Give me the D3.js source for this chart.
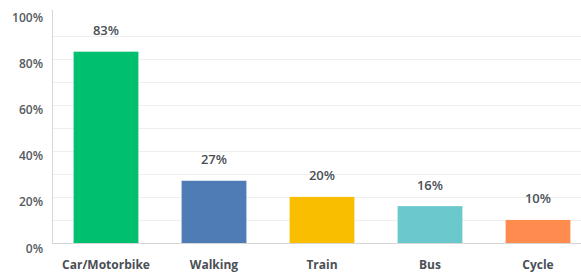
<!DOCTYPE html>
<html>
<head>
<meta charset="utf-8">
<script src="https://cdn.jsdelivr.net/npm/d3@7"></script>
<style>
  html, body { margin: 0; padding: 0; background: #fff; }
  svg { display: block; font-family: "Open Sans", "Liberation Sans", sans-serif; }
</style>
</head>
<body>
<svg id="chart" width="581" height="273"></svg>
<script>
const categories = ['Car/Motorbike', 'Walking', 'Train', 'Bus', 'Cycle']
const values = [83, 27, 20, 16, 10]
const colors = ['#00bf6f', '#507cb6', '#f9be00', '#6bc8cd', '#ff8b4f']
const yTicks = [0, 20, 40, 60, 80, 100]
const gridTicks = [10, 20, 30, 40, 50, 60, 70, 80, 90]

const W = 581, H = 273
const plotLeft = 52, plotTop = 12.5, plotBottom = 243

const svg = d3.select('#chart')

const x = d3.scaleBand()
  .domain(categories)
  .range([plotLeft, 592])
  .paddingInner(0.4)
  .paddingOuter(0.2)

const y = d3.scaleLinear()
  .domain([0, 100])
  .range([plotBottom, plotTop])

// Gridlines
svg.append('g')
  .selectAll('line')
  .data(gridTicks)
  .join('line')
  .attr('x1', plotLeft)
  .attr('x2', W)
  .attr('y1', d => Math.round(y(d)) + 0.5)
  .attr('y2', d => Math.round(y(d)) + 0.5)
  .attr('stroke', '#efefef')
  .attr('stroke-width', 1)

// Y tick labels
svg.append('g')
  .selectAll('text')
  .data(yTicks)
  .join('text')
  .attr('x', 43)
  .attr('y', d => y(d) + 9.5)
  .attr('text-anchor', 'end')
  .style('font-size', '12px')
  .style('font-weight', 600)
  .style('fill', '#555a60')
  .text(d => d + '%')

// Bars
svg.append('g')
  .selectAll('rect')
  .data(values)
  .join('rect')
  .attr('x', (d, i) => x(categories[i]))
  .attr('y', d => y(d))
  .attr('width', x.bandwidth())
  .attr('height', d => plotBottom - y(d))
  .attr('fill', (d, i) => colors[i])

// Axis lines
svg.append('line')
  .attr('x1', plotLeft + 0.5).attr('x2', plotLeft + 0.5)
  .attr('y1', 10).attr('y2', plotBottom)
  .attr('stroke', '#d6d6d6')
svg.append('line')
  .attr('x1', plotLeft).attr('x2', W)
  .attr('y1', plotBottom + 0.5).attr('y2', plotBottom + 0.5)
  .attr('stroke', '#d6d6d6')

// Value labels
svg.append('g')
  .selectAll('text')
  .data(values)
  .join('text')
  .attr('x', (d, i) => x(categories[i]) + x.bandwidth() / 2)
  .attr('y', d => y(d) - 16.5)
  .attr('text-anchor', 'middle')
  .style('font-size', '13px')
  .style('font-weight', 600)
  .style('fill', '#4a4f55')
  .text(d => d + '%')

// Category labels
svg.append('g')
  .selectAll('text')
  .data(categories)
  .join('text')
  .attr('x', d => x(d) + x.bandwidth() / 2)
  .attr('y', 269)
  .attr('text-anchor', 'middle')
  .style('font-size', '12px')
  .style('font-weight', 700)
  .style('fill', '#4a4f55')
  .text(d => d)
</script>
</body>
</html>
